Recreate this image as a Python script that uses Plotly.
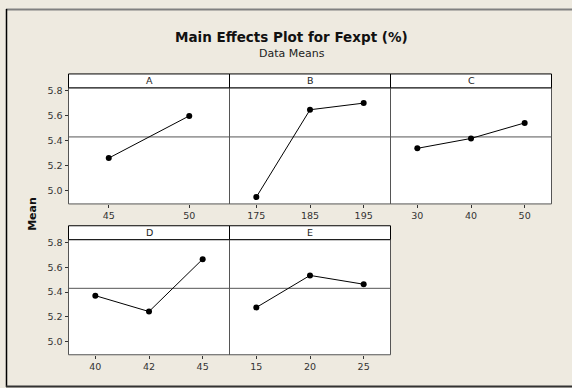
import plotly.graph_objects as go

W, H = 572, 388

# ---- data ----
factors = ["A", "B", "C", "D", "E"]
levels_A = ["45", "50"]
means_A = [5.261, 5.598]
levels_B = ["175", "185", "195"]
means_B = [4.950, 5.647, 5.700]
levels_C = ["30", "40", "50"]
means_C = [5.339, 5.418, 5.542]
levels_D = ["40", "42", "45"]
means_D = [5.371, 5.243, 5.665]
levels_E = ["15", "20", "25"]
means_E = [5.276, 5.534, 5.463]
grand_mean = 5.430
y_ticks = [5.0, 5.2, 5.4, 5.6, 5.8]
y_tick_labels = ["5.0", "5.2", "5.4", "5.6", "5.8"]

levels = [levels_A, levels_B, levels_C, levels_D, levels_E]
means = [means_A, means_B, means_C, means_D, means_E]

# ---- layout geometry (pixels) ----
col_x = [(68.5, 229.5), (229.5, 390.5), (390.5, 551.5), (68.5, 229.5), (229.5, 390.5)]
row_plot = [(85.5, 202.5), (85.5, 202.5), (85.5, 202.5), (238.5, 354.5), (238.5, 354.5)]
row_strip = [(71.5, 85.5), (71.5, 85.5), (71.5, 85.5), (224.5, 238.5), (224.5, 238.5)]

def px(x):
    return x / W

def py(y):
    return 1 - y / H

FONT = "DejaVu Sans"
BG = "#EEEAE0"
FRAME = "#555555"

fig = go.Figure()
layout = dict(
    width=W, height=H,
    margin=dict(l=0, r=0, t=0, b=0),
    paper_bgcolor=BG,
    plot_bgcolor="white",
    showlegend=False,
    font=dict(family=FONT, size=9, color="#333333"),
)
shapes = []
annotations = []

for i, f in enumerate(factors):
    n = i + 1
    xs = "x" if n == 1 else f"x{n}"
    ys = "y" if n == 1 else f"y{n}"
    xk = "xaxis" if n == 1 else f"xaxis{n}"
    yk = "yaxis" if n == 1 else f"yaxis{n}"
    fig.add_trace(go.Scatter(
        x=levels[i], y=means[i], xaxis=xs, yaxis=ys,
        mode="lines+markers",
        line=dict(color="black", width=1),
        marker=dict(color="black", size=6, symbol="circle"),
        hoverinfo="skip",
    ))
    x0, x1 = col_x[i]
    y0, y1 = row_plot[i]
    first_col = f in ("A", "D")
    layout[xk] = dict(
        domain=[px(x0), px(x1)], anchor=ys, type="category",
        range=[-0.5, len(levels[i]) - 0.5],
        showline=False,
        ticks="outside", ticklen=3, tickcolor="#333333",
        showgrid=False, zeroline=False,
        tickfont=dict(family=FONT, size=9.5, color="#333333"),
        fixedrange=True,
    )
    layout[yk] = dict(
        domain=[py(y1), py(y0)], anchor=xs,
        range=[4.895, 5.822],
        showline=False,
        ticks="outside" if first_col else "", ticklen=3, tickcolor="#333333",
        tickvals=y_ticks, ticktext=y_tick_labels,
        showticklabels=first_col,
        showgrid=False, zeroline=False,
        tickfont=dict(family=FONT, size=9.5, color="#333333"),
        fixedrange=True,
    )
    # grand mean reference line
    shapes.append(dict(
        type="line", xref=f"{xs} domain", yref=ys,
        x0=0, x1=1, y0=grand_mean, y1=grand_mean,
        line=dict(color="#555555", width=1),
        layer="below",
    ))
    # panel frame
    shapes.append(dict(
        type="rect", xref="paper", yref="paper",
        x0=px(x0), x1=px(x1), y0=py(y1), y1=py(y0),
        line=dict(color=FRAME, width=1),
    ))
    # strip header
    s0, s1 = row_strip[i]
    shapes.append(dict(
        type="rect", xref="paper", yref="paper",
        x0=px(x0), x1=px(x1), y0=py(s1), y1=py(s0),
        fillcolor="white", line=dict(color="black", width=1),
    ))
    annotations.append(dict(
        text=f, xref="paper", yref="paper",
        x=px((x0 + x1) / 2), y=py((s0 + s1) / 2),
        xanchor="center", yanchor="middle", showarrow=False,
        font=dict(family=FONT, size=9.5, color="#222222"),
    ))

# outer frame
shapes.append(dict(type="line", xref="paper", yref="paper",
                   x0=px(6), x1=1, y0=py(6.5), y1=py(6.5),
                   line=dict(color="#808080", width=2)))
shapes.append(dict(type="line", xref="paper", yref="paper",
                   x0=px(6.5), x1=px(6.5), y0=py(6), y1=py(387),
                   line=dict(color="black", width=1.5)))
shapes.append(dict(type="line", xref="paper", yref="paper",
                   x0=px(6), x1=1, y0=py(386.5), y1=py(386.5),
                   line=dict(color="#333333", width=2)))

# titles
annotations.append(dict(
    text="<b>Main Effects Plot for Fexpt (%)</b>", xref="paper", yref="paper",
    x=px(291), y=py(34.5), xanchor="center", yanchor="middle", showarrow=False,
    font=dict(family=FONT, size=13.5, color="#111111"),
))
annotations.append(dict(
    text="Data Means", xref="paper", yref="paper",
    x=px(291.5), y=py(51), xanchor="center", yanchor="middle", showarrow=False,
    font=dict(family=FONT, size=11, color="#222222"),
))
annotations.append(dict(
    text="<b>Mean</b>", xref="paper", yref="paper",
    x=px(32.5), y=py(213), xanchor="center", yanchor="middle", showarrow=False,
    textangle=-90,
    font=dict(family=FONT, size=11, color="#111111"),
))

layout["shapes"] = shapes
layout["annotations"] = annotations
fig.update_layout(**layout)
fig.write_html(
    "out.html",
    config={"displayModeBar": False},
    post_script="document.body.style.margin='0';document.body.style.padding='0';",
)
